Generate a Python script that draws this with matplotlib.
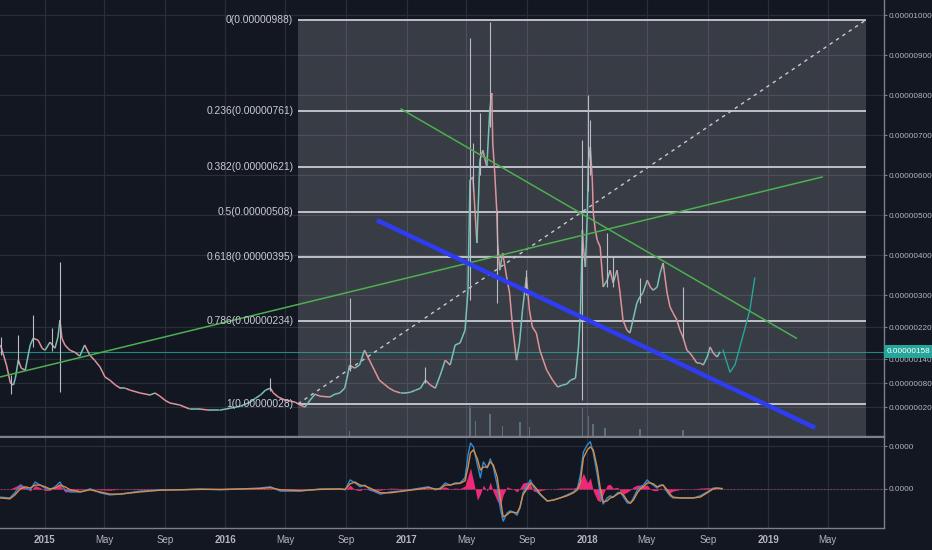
import numpy as np
import pandas as pd
import matplotlib
matplotlib.use('Agg')
import matplotlib.pyplot as plt
import matplotlib.dates as mdates
from matplotlib.collections import LineCollection

# ---- price (in 1e-8, i.e. satoshi) ----
price_dates = ['2014-10-04','2014-10-10','2014-10-16','2014-10-24','2014-10-30','2014-11-03','2014-11-09',
               '2014-11-15','2014-11-23','2014-11-29','2014-12-03','2014-12-09','2014-12-19','2014-12-27',
               '2015-01-02','2015-01-12','2015-01-22','2015-01-28','2015-02-01','2015-02-05','2015-02-11',
               '2015-02-21','2015-03-03','2015-03-13','2015-03-23','2015-04-02','2015-04-12','2015-04-23',
               '2015-05-03','2015-05-13','2015-05-24','2015-06-03','2015-06-13','2015-06-23','2015-07-13',
               '2015-08-02','2015-08-12','2015-08-22','2015-09-01','2015-09-11','2015-10-01','2015-10-21',
               '2015-11-10','2015-11-30','2015-12-20','2016-01-11','2016-01-31','2016-02-20','2016-03-02',
               '2016-03-12','2016-03-22','2016-04-01','2016-04-07','2016-04-17','2016-05-01','2016-05-11',
               '2016-05-21','2016-05-31','2016-06-10','2016-06-20','2016-06-30','2016-07-10','2016-07-30',
               '2016-08-09','2016-08-19','2016-08-29','2016-09-04','2016-09-08','2016-09-18','2016-09-28',
               '2016-10-08','2016-10-18','2016-10-28','2016-11-07','2016-11-17','2016-11-27','2016-12-07',
               '2016-12-20','2016-12-30','2017-01-09','2017-01-19','2017-01-29','2017-02-08','2017-02-18',
               '2017-02-28','2017-03-10','2017-03-20','2017-03-30','2017-04-09','2017-04-19','2017-04-29',
               '2017-05-05','2017-05-09','2017-05-15','2017-05-23','2017-05-29','2017-06-04','2017-06-12',
               '2017-06-18','2017-06-22','2017-06-24','2017-06-28','2017-07-02','2017-07-04','2017-07-08',
               '2017-07-14','2017-07-22','2017-07-28','2017-08-03','2017-08-11','2017-08-17','2017-08-23',
               '2017-08-31','2017-09-06','2017-09-12','2017-09-20','2017-09-27','2017-10-11','2017-10-23',
               '2017-11-02','2017-11-12','2017-11-20','2017-11-28','2017-12-08','2017-12-14','2017-12-18',
               '2017-12-22','2017-12-24','2017-12-28','2018-01-01','2018-01-03','2018-01-07','2018-01-11',
               '2018-01-13','2018-01-17','2018-01-21','2018-01-27','2018-02-02','2018-02-10','2018-02-16',
               '2018-02-22','2018-03-02','2018-03-08','2018-03-14','2018-03-22','2018-03-28','2018-04-03',
               '2018-04-11','2018-04-17','2018-04-23','2018-05-02','2018-05-08','2018-05-14','2018-05-22',
               '2018-05-28','2018-06-03','2018-06-11','2018-06-17','2018-06-23','2018-07-01','2018-07-07',
               '2018-07-13','2018-07-21','2018-07-27','2018-08-02','2018-08-10','2018-08-17','2018-08-23',
               '2018-08-31','2018-09-06','2018-09-12','2018-09-20','2018-09-26']
price_close = [175,150,125,80,75,92,137,
               117,112,150,175,192,187,167,
               162,182,167,195,237,192,175,
               162,157,147,175,150,137,120,
               95,87,75,67,67,62,55,
               50,55,47,37,30,25,15,
               15,12,12,17,22,32,42,
               50,62,67,55,45,37,35,
               32,25,20,37,52,47,45,
               52,55,67,100,125,117,125,
               162,137,112,87,77,67,60,
               55,55,57,62,67,87,75,
               67,100,137,125,175,180,212,
               312,587,595,430,637,662,620,
               762,805,680,605,512,430,362,
               405,345,305,220,137,180,262,
               345,262,220,205,162,112,87,
               70,75,77,87,92,170,255,
               462,420,370,505,630,670,587,
               505,462,437,420,320,337,362,
               330,362,305,237,212,205,237,
               280,295,305,337,320,312,320,
               355,380,305,270,255,237,212,
               195,162,155,145,130,130,125,
               145,170,155,145,158]

wick_dates = ['2014-10-06','2014-10-26','2014-11-09','2014-12-09','2015-01-16','2015-02-01','2016-04-01',
              '2016-09-08','2017-02-08','2017-05-09','2017-05-15','2017-05-29','2017-06-18','2017-07-02',
              '2017-08-31','2017-12-22','2018-01-03','2018-01-07','2018-02-10','2018-02-22','2018-04-17',
              '2018-07-13']
wick_high = [195,100,200,250,217,382,92,292,120,942,680,755,982,512,362,687,800,737,455,395,342,320]
wick_low = [150,52,130,170,160,57,60,110,80,287,560,600,720,280,300,37,560,600,320,320,280,190]

vol_dates = ['2016-09-08','2017-05-09','2017-05-20','2017-06-18','2017-07-14','2017-08-18','2017-09-06',
             '2017-12-22','2018-01-03','2018-01-12','2018-02-06','2018-04-17','2018-07-13']
vol = [5, 30, 15, 22, 10, 14, 9, 28, 20, 12, 8, 7, 6]

# ---- fib retracement ----
fib_start, fib_end = '2016-05-27', '2019-07-18'
fib_levels = ['0', '0.236', '0.382', '0.5', '0.618', '0.786', '1']
fib_prices = [988, 761, 621, 508, 395, 234, 28]

# ---- drawn trend lines (date, price) ----
green1 = (['2014-10-03', '2019-04-20'], [95, 595])
green2 = (['2016-12-21', '2019-02-27'], [765, 192])
blue_line = (['2016-11-02', '2019-04-06'], [487, -32])
projection = (['2018-10-02', '2018-10-16', '2018-10-26', '2018-11-05', '2018-11-25', '2018-12-05'],
              [162, 107, 125, 170, 262, 342])
last_price = 158

price_ticks = [1000, 900, 800, 700, 600, 500, 400, 300, 220, 140, 80, 20]

# ---- MACD pane (1e-8) ----
m_dates = ['2014-10-03','2014-10-23','2014-11-02','2014-11-13','2014-11-23','2014-12-03','2014-12-13',
           '2014-12-23','2015-01-02','2015-01-12','2015-01-22','2015-02-01','2015-02-11','2015-02-22',
           '2015-03-14','2015-04-03','2015-04-23','2015-05-13','2015-06-03','2015-07-13','2015-08-22',
           '2015-10-02','2015-11-11','2015-12-22','2016-01-31','2016-03-11','2016-04-01','2016-04-21',
           '2016-05-31','2016-07-11','2016-08-20','2016-08-30','2016-09-09','2016-09-19','2016-09-29',
           '2016-10-09','2016-10-19','2016-10-30','2016-11-09','2016-11-29','2016-12-19','2017-01-08',
           '2017-01-29','2017-02-14','2017-02-28','2017-03-10','2017-03-20','2017-03-30','2017-04-09',
           '2017-04-19','2017-04-29','2017-05-05','2017-05-10','2017-05-16','2017-05-24','2017-05-30',
           '2017-06-05','2017-06-13','2017-06-19','2017-06-25','2017-07-03','2017-07-09','2017-07-15',
           '2017-07-23','2017-07-29','2017-08-04','2017-08-12','2017-08-18','2017-08-24','2017-09-02',
           '2017-09-08','2017-09-14','2017-09-22','2017-09-28','2017-10-12','2017-10-24','2017-11-07',
           '2017-11-21','2017-12-04','2017-12-12','2017-12-18','2017-12-24','2018-01-01','2018-01-07',
           '2018-01-13','2018-01-21','2018-01-27','2018-02-02','2018-02-10','2018-02-16','2018-02-22',
           '2018-03-03','2018-03-09','2018-03-15','2018-03-23','2018-03-29','2018-04-04','2018-04-12',
           '2018-04-18','2018-04-24','2018-05-02','2018-05-08','2018-05-14','2018-05-22','2018-05-28',
           '2018-06-03','2018-06-11','2018-06-17','2018-06-23','2018-07-08','2018-07-22','2018-08-03',
           '2018-08-17','2018-08-31','2018-09-12','2018-09-20','2018-09-30']
macd = [-19,-21,-9,9,2,-2,16,
        9,2,-2,5,16,-2,-7,
        -7,0,-9,-14,-12,-5,-2,
        -2,0,-2,0,2,5,-5,
        -5,0,0,-2,21,14,5,
        9,-2,-7,-12,-7,-5,-2,
        2,5,-2,2,14,9,14,
        14,26,79,107,98,56,26,
        63,49,70,51,9,-44,-75,
        -56,-51,-54,-61,-44,-9,9,
        21,5,-7,-14,-28,-26,-21,
        -14,-7,2,33,86,103,110,
        84,33,-14,-35,-21,-16,-19,
        -9,-7,-19,-33,-33,-21,-2,
        5,9,21,14,9,2,9,
        9,-7,-16,-21,-21,-21,-21,
        -16,-7,2,2,0]
signal = [-21,-23,-14,0,5,2,9,
          9,5,0,2,9,5,-2,
          -7,-2,-7,-12,-12,-7,-3,
          -2,-1,-1,0,1,3,-2,
          -4,-1,0,-1,12,16,9,
          7,2,-4,-9,-9,-6,-3,
          0,3,0,0,9,9,12,
          13,19,50,84,91,70,44,
          51,51,63,56,28,-21,-65,
          -60,-54,-54,-56,-42,-14,2,
          14,9,-2,-12,-28,-26,-21,
          -16,-9,-2,16,72,91,98,
          91,49,2,-30,-28,-21,-19,
          -12,-9,-14,-28,-33,-26,-9,
          0,5,14,14,12,5,7,
          9,-2,-12,-19,-21,-21,-21,
          -19,-9,0,2,1]
hist = [0,0,5,12,5,-5,8,
        3,-4,-3,4,10,-7,-6,
        -2,2,-2,-3,0,1,0,
        0,1,-1,0,1,2,-3,
        -1,1,0,-1,9,-2,-4,
        2,-4,-3,-3,2,1,1,
        2,2,-2,2,5,0,2,
        1,7,30,49,19,-26,-12,
        9,-5,16,-7,-28,-40,-14,
        5,2,0,-7,2,14,16,
        12,-5,-7,-4,0,0,2,
        2,2,5,19,37,14,26,
        -5,-26,-30,-12,9,11,2,
        4,-5,-12,-7,-2,5,9,
        9,7,9,0,-4,-4,2,
        0,-7,-9,-5,-1,0,0,
        2,3,2,0,0]

tick_dates = ['2015-01-01','2015-05-01','2015-09-01','2016-01-01','2016-05-01','2016-09-01','2017-01-01',
              '2017-05-01','2017-09-01','2018-01-01','2018-05-01','2018-09-01','2019-01-01','2019-05-01']
tick_labels = ['2015','May','Sep','2016','May','Sep','2017','May','Sep','2018','May','Sep','2019','May']


def dn(lst):
    return mdates.date2num(pd.to_datetime(lst))


plt.rcParams['font.family'] = ['Liberation Sans', 'DejaVu Sans']

BG = '#131722'
GRID = '#2a2e39'
TXT = '#b2b5be'
EDGE = '#7d808a'

fig = plt.figure(figsize=(9.32, 5.5), dpi=100)
fig.patch.set_facecolor(BG)

xlim = dn(['2014-10-03', '2019-08-23'])
ylim = (-52.5, 1037.5)

# volume sits under the main pane
axv = fig.add_axes([0, 114/550, 884/932, 436/550])
axv.set_facecolor(BG)
axv.bar(dn(vol_dates), vol, width=3, color='#5d7f86', alpha=0.6)
axv.set_xlim(xlim)
axv.set_ylim(0, 436)
axv.axis('off')

ax = fig.add_axes([0, 114/550, 884/932, 436/550])
ax.patch.set_alpha(0)
axm = fig.add_axes([0, 22/550, 884/932, 91/550])
axm.set_facecolor(BG)

for a in (ax, axm):
    a.set_xlim(xlim)
    a.set_xticks(dn(tick_dates))
    a.grid(True, color=GRID, lw=0.9)
    a.set_axisbelow(True)
    a.yaxis.tick_right()
    a.tick_params(axis='y', colors=EDGE, labelcolor=TXT, labelsize=5.9, length=2.5, width=0.8, pad=1)
    for s in ('left', 'top'):
        a.spines[s].set_visible(False)
    for s in ('right', 'bottom'):
        a.spines[s].set_color(EDGE)
        a.spines[s].set_linewidth(1)

ax.set_ylim(ylim)
ax.set_yticks(price_ticks)
ax.set_yticklabels([f'{v*1e-8:.8f}' for v in price_ticks])
ax.tick_params(axis='x', bottom=False, labelbottom=False)

# fib area
fx0, fx1 = dn([fib_start, fib_end])
ax.fill_between([fx0, fx1], ylim[0], fib_prices[0], color='white', alpha=0.16, lw=0, zorder=1)
ax.hlines(fib_prices, fx0, fx1, color='#c9cbd1', lw=1.3, zorder=3)
for lv, p in zip(fib_levels, fib_prices):
    ax.annotate(f'{lv}({p*1e-8:.8f})', xy=(fx0, p), xytext=(-3.5, 0), textcoords='offset points',
                ha='right', va='center', color='#c9cbd1', fontsize=7.4, zorder=6)
ax.plot([fx0, fx1], [fib_prices[-1], fib_prices[0]], ls=(0, (2.5, 3)), color='#c9cbd1', lw=1, zorder=3)

# price as coloured segments + wicks
px = dn(price_dates)
py = np.array(price_close, dtype=float)
segs = [[(px[i-1], py[i-1]), (px[i], py[i])] for i in range(1, len(px))]
cols = ['#78c2b5' if py[i] >= py[i-1] else '#df939a' for i in range(1, len(px))]
ax.add_collection(LineCollection(segs, colors=cols, lw=1.1, zorder=4))
ax.vlines(dn(wick_dates), wick_low, wick_high, color='#b9bcc4', lw=0.8, zorder=4)

# trend lines
ax.plot(dn(green1[0]), green1[1], color='#4caf50', lw=1.1, zorder=5)
ax.plot(dn(green2[0]), green2[1], color='#4caf50', lw=1.1, zorder=5)
ax.plot(dn(blue_line[0]), blue_line[1], color='#2f3cf5', lw=3.2, zorder=5, solid_capstyle='butt')
ax.plot(dn(projection[0]), projection[1], color='#26a69a', lw=1, zorder=5)

# last price line and label
ax.axhline(last_price, color='#26a69a', lw=0.8, alpha=0.8, zorder=2)
ax.annotate(f'{last_price*1e-8:.8f}', xy=(1, last_price), xycoords=('axes fraction', 'data'),
            xytext=(2.2, 0), textcoords='offset points', ha='left', va='center', color='white',
            fontsize=5.9, annotation_clip=False, zorder=10,
            bbox=dict(boxstyle='square,pad=0.35', fc='#26a69a', ec='none'))

# MACD pane
mx = dn(m_dates)
axm.set_ylim(-91, 121)
axm.fill_between(mx, 0, hist, color='#f0287a', lw=0, zorder=2)
axm.axhline(0, color='#e0457a', lw=0.6, ls=(0, (2, 2)), alpha=0.6, zorder=2)
axm.plot(mx, macd, color='#2f8bd6', lw=1, zorder=3)
axm.plot(mx, signal, color='#d98c45', lw=1, zorder=3)
axm.set_yticks([0, 100])
axm.set_yticklabels(['0.0000', '0.0000'])
axm.spines['top'].set_visible(True)
axm.spines['top'].set_color(EDGE)
axm.set_xticklabels(tick_labels)
axm.tick_params(axis='x', length=0, pad=5, labelsize=7, labelcolor=TXT)
for t in axm.get_xticklabels():
    if t.get_text().isdigit():
        t.set_fontweight('bold')

fig.savefig('out.png', dpi=100, facecolor=BG)
